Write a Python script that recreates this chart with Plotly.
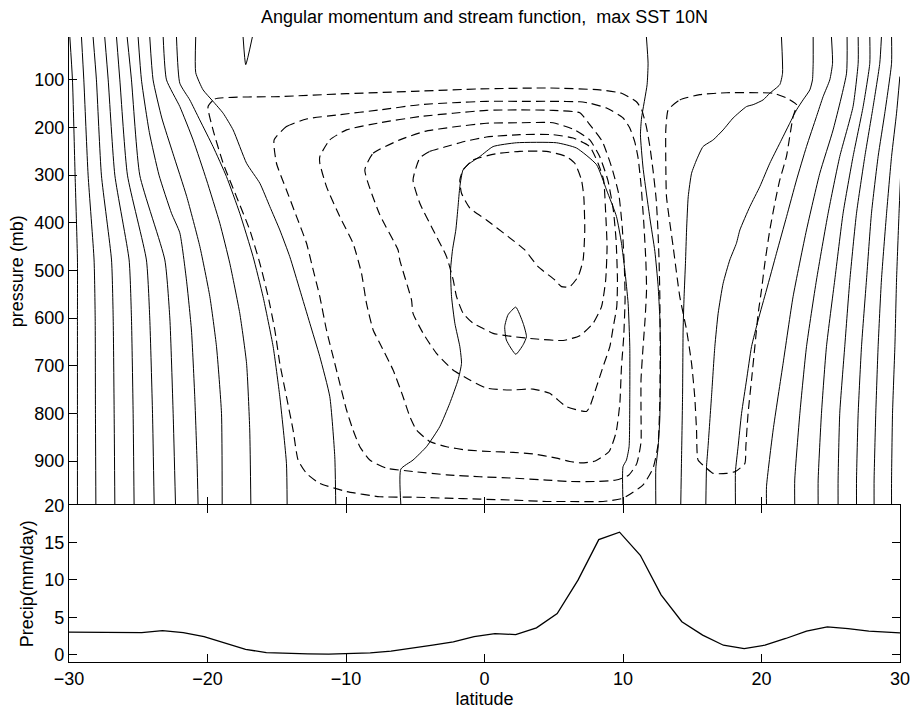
import plotly.graph_objects as go

# ---------------- data (latitude, pressure mb) ----------------
# Angular momentum contours (solid)
AM_S01 = [(-29.94,10),(-29.75,100),(-29.56,300),(-29.39,478),(-29.39,600),(-29.39,800),(-29.39,992)]
AM_S02 = [(-29.10,10),(-28.93,100),(-28.62,300),(-28.19,478),(-28.11,600),(-28.09,800),(-28.06,992)]
AM_S03 = [(-28.26,10),(-28.02,100),(-27.66,300),(-26.93,478),(-26.81,600),(-26.74,800),(-26.69,992)]
AM_S04 = [(-27.42,10),(-27.17,100),(-26.69,300),(-25.66,478),(-25.49,600),(-25.37,800),(-25.30,992)]
AM_S05 = [(-26.57,10),(-26.33,100),(-25.78,300),(-24.41,478),(-24.17,600),(-23.97,800),(-23.85,992)]
AM_S06 = [(-25.80,10),(-25.49,100),(-24.89,300),(-23.08,478),(-22.72,600),(-22.48,800),(-22.31,992)]
AM_S07 = [(-25.01,10),(-24.77,100),(-24.2,210),(-23.5,300),(-22.6,380),(-22.0,421),(-21.52,520),(-21.16,625),(-20.92,765),(-20.75,905),(-20.68,992)]
AM_S08 = [(-24.17,10),(-23.93,100),(-23.3,180),(-22.5,254),(-21.5,345),(-20.55,450),(-19.83,555),(-19.35,660),(-18.99,800),(-18.94,992)]
AM_S09 = [(-23.2,10),(-22.96,100),(-22.0,156),(-21.04,226),(-20.07,310),(-19.11,401),(-18.39,485),(-17.67,590),(-17.18,695),(-16.95,835),(-16.87,992)]
AM_S10 = [(-22.24,10),(-22.0,107),(-21.28,142),(-20.56,184),(-19.6,240),(-18.63,303),(-17.67,380),(-16.71,471),(-15.99,555),(-15.26,660),(-14.78,765),(-14.3,905),(-14.25,992)]
AM_S11 = [(-20.85,10),(-20.85,85),(-20.32,121),(-19.6,145),(-18.87,170),(-18.15,205),(-17.18,275),(-16.22,317),(-15.5,366),(-14.78,415),(-14.06,471),(-13.33,541),(-12.61,611),(-11.89,681),(-11.17,765),(-10.81,891),(-10.74,992)]
AM_V = [(-17.43,10),(-17.24,68),(-16.76,10)]
AM_U = [(-6.04,992),(-6.04,917),(-5.16,898),(-4.19,870),(-3.23,828),(-2.51,779),(-1.91,730),(-1.66,695),(-1.78,660),(-2.14,611),(-2.38,555),(-2.45,499),(-2.31,457),(-2.07,415),(-1.91,366),(-1.78,324),(-1.55,289),(-1.06,275),(-0.34,261),(0.62,240),(2.31,232),(5.2,232),(6.64,243),(8.09,278),(8.81,331),(9.53,387),(9.89,443),(10.13,499),(10.37,569),(10.49,660),(10.49,765),(10.44,870),(10.25,898),(10.0,912),(10.0,992)]
AM_EYE = [(2.26,577),(1.7,593),(1.46,618),(1.58,646),(2.26,676),(2.79,656),(3.03,639),(2.79,611),(2.26,577)]
AM_B = [(11.69,10),(11.81,65),(11.74,110),(11.34,180),(11.26,215),(11.45,285),(11.94,390),(12.3,460),(12.53,530),(12.66,600),(12.71,670),(12.66,810),(12.53,873),(12.37,915),(12.37,992)]
AM_C = [(21.44,10),(21.52,86),(21.32,110),(20.6,128),(20.12,142),(19.4,152),(18.92,156),(17.95,180),(17.23,205),(16.51,226),(15.78,240),(15.31,268),(14.95,296),(14.71,345),(14.59,415),(14.51,485),(14.41,555),(14.34,625),(14.3,765),(14.22,905),(14.17,992)]
AM_D = [(23.73,10),(23.73,65),(23.68,100),(23.49,121),(23.0,142),(22.53,163),(22.04,191),(21.32,233),(20.6,275),(19.88,324),(19.16,366),(18.44,415),(18.19,443),(17.71,478),(17.23,527),(16.87,590),(16.63,660),(16.39,765),(16.14,870),(16.03,912),(15.98,992)]
AM_E = [(25.05,10),(25.13,65),(24.93,100),(24.45,135),(23.97,177),(23.25,240),(22.53,310),(21.81,387),(21.08,464),(20.36,541),(19.76,604),(19.28,660),(18.92,730),(18.56,800),(18.31,870),(18.12,922),(18.12,992)]
AM_F = [(26.18,10),(26.14,86),(25.17,205),(24.21,296),(23.25,415),(22.28,555),(21.56,695),(20.84,835),(20.36,954),(20.36,992)]
AM_G = [(26.98,10),(26.98,65),(26.61,156),(25.65,261),(24.81,380),(23.97,520),(23.25,660),(22.77,800),(22.40,940),(22.40,992)]
AM_H = [(27.82,10),(27.82,65),(27.34,156),(26.61,261),(25.89,380),(25.29,520),(24.69,660),(24.33,800),(24.09,940),(24.09,992)]
AM_I = [(28.66,10),(28.54,65),(28.06,156),(27.46,261),(26.86,380),(26.38,520),(26.01,660),(25.65,800),(25.53,940),(25.53,992)]
AM_J = [(29.39,10),(29.39,65),(28.90,170),(28.42,261),(27.94,380),(27.58,520),(27.22,660),(26.98,800),(26.86,940),(26.86,992)]
AM_K = [(29.99,93),(29.75,170),(29.39,261),(29.03,380),(28.66,520),(28.42,660),(28.25,800),(28.13,940),(28.13,992)]
AM_L = [(30.04,303),(29.93,380),(29.75,520),(29.63,660),(29.46,800),(29.39,940),(29.39,992)]

# Stream function contours (dashed)
SF_1 = [(-19.96,156),(-19.47,140),(-14.78,135),(-9.96,129),(-5.16,124),(-0.34,119),(4.71,117),(8.32,121),(9.9,128),(10.97,146),(11.34,162),(11.7,200),(11.94,240),(12.17,290),(12.4,352),(12.53,420),(12.61,485),(12.66,555),(12.68,625),(12.68,700),(12.66,772),(12.53,866),(12.17,915),(11.45,950),(10.01,978),(8.56,985),(6.16,985),(4.48,985),(2.06,982),(-0.34,980),(-2.74,978),(-5.16,976),(-7.56,975),(-9.96,964),(-11.89,947),(-12.85,926),(-13.46,898),(-13.82,835),(-14.3,765),(-14.78,695),(-15.14,625),(-15.62,555),(-16.22,485),(-16.95,415),(-17.91,345),(-18.87,275),(-19.6,205),(-19.96,156)]
SF_2 = [(-15.19,226),(-14.3,198),(-12.85,182),(-10.45,173),(-7.56,163),(-4.67,152),(-2.27,148),(0.14,145),(2.55,145),(4.95,145),(6.88,146),(7.6,149),(8.81,159),(10.01,180),(10.49,201),(10.85,230),(11.09,264),(11.3,320),(11.5,400),(11.65,480),(11.7,540),(11.6,600),(11.45,660),(11.3,730),(11.3,800),(11.3,860),(11.0,905),(10.4,930),(9.5,940),(8.0,943),(6.16,943),(4.48,940),(2.06,936),(-0.34,933),(-2.74,929),(-5.16,922),(-7.08,915),(-8.28,898),(-9.0,870),(-9.49,835),(-9.96,793),(-10.45,737),(-10.93,681),(-11.41,625),(-11.89,555),(-12.37,499),(-12.85,443),(-13.57,387),(-14.3,331),(-15.02,275),(-15.19,226)]
SF_3 = [(-11.89,261),(-11.17,226),(-9.96,205),(-7.56,190),(-4.67,177),(-2.27,170),(0.14,164),(2.55,163),(4.95,164),(6.88,169),(7.6,194),(8.5,229),(9.2,285),(9.7,341),(9.95,411),(10.1,495),(10.15,560),(10.05,640),(9.89,702),(9.77,780),(9.5,840),(9.0,880),(8.0,900),(7.0,904),(6.16,901),(5.2,894),(3.51,885),(2.06,882),(0.38,880),(-1.3,877),(-2.74,870),(-3.95,859),(-4.91,835),(-5.39,807),(-5.88,765),(-6.6,709),(-7.56,653),(-8.04,625),(-8.52,569),(-8.88,506),(-9.49,443),(-10.45,387),(-11.41,324),(-11.89,275),(-11.89,261)]
SF_4 = [(-8.64,289),(-8.04,254),(-6.12,226),(-4.31,208),(-2.27,199),(0.14,191),(2.55,190),(4.95,190),(6.52,205),(7.6,226),(8.3,260),(8.9,310),(9.3,373),(9.5,436),(9.6,520),(9.55,576),(9.3,618),(9.05,660),(8.56,702),(8.09,744),(7.6,786),(7.36,796),(5.92,786),(4.71,758),(3.51,749),(1.83,751),(0.14,747),(-1.06,730),(-2.27,709),(-3.47,674),(-4.43,632),(-5.16,590),(-5.27,562),(-6.12,478),(-6.24,457),(-7.56,383),(-8.64,289)]
SF_5 = [(-4.67,264),(-3.95,250),(-2.74,240),(-1.54,230),(0.14,220),(2.55,215),(4.95,215),(6.4,222),(7.6,240),(8.2,275),(8.6,310),(8.75,380),(8.85,450),(8.75,520),(8.45,576),(7.84,611),(6.88,637),(5.68,647),(3.75,644),(2.06,639),(0.62,632),(-0.34,618),(-0.82,611),(-1.54,590),(-2.02,555),(-2.26,520),(-2.74,471),(-3.71,415),(-4.67,359),(-5.16,310),(-4.67,264)]
SF_6 = [(-1.54,289),(-0.82,268),(0.86,255),(2.55,250),(4.47,250),(5.92,261),(6.52,275),(7.0,310),(7.17,345),(7.24,415),(7.12,478),(6.76,513),(6.16,534),(5.56,534),(5.08,520),(3.87,492),(2.91,457),(1.71,429),(0.14,394),(-1.06,369),(-1.66,338),(-1.78,310),(-1.54,289)]
SF_R = [(13.26,163),(14.1,142),(15.55,131),(17.47,127),(19.88,127),(20.84,128),(21.81,138),(22.53,152),(22.28,177),(22.04,219),(21.8,261),(21.32,310),(20.96,359),(20.6,415),(20.24,485),(20.0,541),(19.76,590),(19.52,660),(19.28,730),(19.03,800),(18.87,870),(18.8,905),(18.12,922),(17.47,926),(16.51,926),(16.03,915),(15.42,898),(15.31,835),(15.18,765),(14.95,695),(14.59,625),(14.1,555),(13.62,450),(13.14,345),(13.09,275),(13.09,205),(13.26,163)]

# Precipitation
PR_LAT = [-30, -29.25, -27.75, -26.25, -24.75, -23.25, -21.75, -20.25, -18.75, -17.25, -15.75, -14.25, -12.75, -11.25, -9.75, -8.25, -6.75, -5.25, -3.75, -2.25, -0.75, 0.75, 2.25, 3.75, 5.25, 6.75, 8.25, 9.75, 11.25, 12.75, 14.25, 15.75, 17.25, 18.75, 20.25, 21.75, 23.25, 24.75, 26.25, 27.75, 29.25, 30]
PR_VAL = [3.0, 3.0, 3.0, 3.0, 2.95, 3.2, 2.95, 2.4, 1.5, 0.7, 0.25, 0.12, 0.08, 0.05, 0.1, 0.22, 0.45, 0.8, 1.25, 1.7, 2.4, 2.8, 2.68, 3.57, 5.5, 9.97, 15.4, 16.4, 13.3, 8.0, 4.4, 2.6, 1.25, 0.8, 1.25, 2.15, 3.13, 3.7, 3.48, 3.13, 2.95, 2.9]

LAT_TICKS = [-30, -20, -10, 0, 10, 20, 30]
LAT_TICKTEXT = ['\u221230', '\u221220', '\u221210', '0', '10', '20', '30']
P_TICKS = [100, 200, 300, 400, 500, 600, 700, 800, 900]
PR_TICKS = [0, 5, 10, 15, 20]

TITLE = 'Angular momentum and stream function,\u00a0 max SST 10N'

# ---------------- figure ----------------
FONT = 'Liberation Sans, Arial, Helvetica, sans-serif'
fig = go.Figure()

def add_contour(pts, dash='solid', width=1.0):
    fig.add_trace(go.Scatter(
        x=[a for a, b in pts], y=[b for a, b in pts], mode='lines',
        line=dict(color='black', width=width, dash=dash, shape='spline', smoothing=0.5),
        hoverinfo='skip', xaxis='x', yaxis='y'))

for line in [AM_S01, AM_S02, AM_S03, AM_S04, AM_S05, AM_S06, AM_S07, AM_S08, AM_S09,
             AM_S10, AM_S11, AM_V, AM_U, AM_EYE, AM_B, AM_C, AM_D, AM_E, AM_F, AM_G,
             AM_H, AM_I, AM_J, AM_K, AM_L]:
    add_contour(line)
for line in [SF_1, SF_2, SF_3, SF_4, SF_5, SF_6, SF_R]:
    add_contour(line, dash='9px,5px', width=1.15)

fig.add_trace(go.Scatter(x=PR_LAT, y=PR_VAL, mode='lines',
                         line=dict(color='black', width=1.3),
                         hoverinfo='skip', xaxis='x2', yaxis='y2'))

Y_SPLIT = 0.2507
axis_common = dict(showgrid=False, zeroline=False, showline=True, linecolor='black',
                   linewidth=1.2, ticks='inside', ticklen=8, tickcolor='black',
                   tickwidth=1, automargin=False, tickfont=dict(size=18, family=FONT, color='black'))
top_x = dict(axis_common, showline=False)

fig.update_layout(
    template='none',
    width=913, height=710,
    margin=dict(l=69, r=13, t=37, b=48, pad=0),
    paper_bgcolor='white', plot_bgcolor='white',
    showlegend=False,
    font=dict(family=FONT, size=18, color='black'),
    title=dict(text=TITLE, x=0.5, xref='paper', xanchor='center',
               y=1 - 17 / 710, yref='container', yanchor='middle',
               font=dict(size=18, family=FONT, color='black')),
    xaxis=dict(domain=[0, 1], anchor='y', range=[-30, 30], tickvals=LAT_TICKS,
               showticklabels=False, **top_x),
    yaxis=dict(domain=[Y_SPLIT, 1], anchor='x', range=[993, 10], tickvals=P_TICKS,
               title=dict(text='pressure (mb)', standoff=5, font=dict(size=18, family=FONT)),
               **axis_common),
    xaxis2=dict(domain=[0, 1], anchor='y2', range=[-30, 30], tickvals=LAT_TICKS,
                ticktext=LAT_TICKTEXT, mirror='ticks',
                title=dict(text='latitude', standoff=4, font=dict(size=18, family=FONT)),
                **axis_common),
    yaxis2=dict(domain=[0, Y_SPLIT], anchor='x2', range=[-1, 20], tickvals=PR_TICKS,
                mirror='ticks',
                title=dict(text='Precip(mm/day)', standoff=5, font=dict(size=18, family=FONT)),
                **axis_common),
)

fig.write_html('out.html',
               config={'displayModeBar': False, 'staticPlot': True},
               post_script="document.body.style.margin='0';document.body.style.overflow='hidden';")
